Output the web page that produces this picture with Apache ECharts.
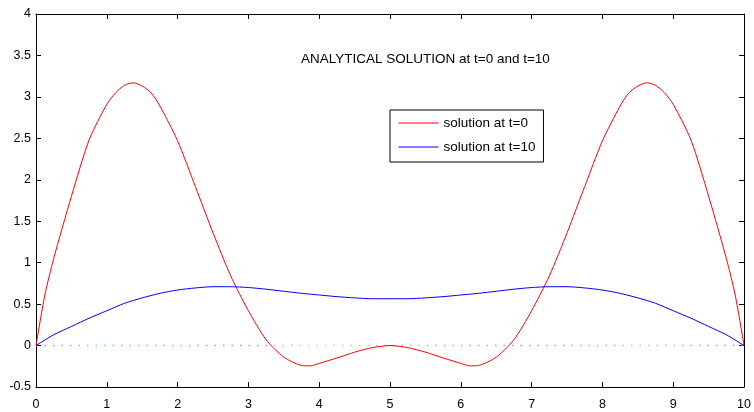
<!DOCTYPE html>
<html>
<head>
<meta charset="utf-8">
<script src="https://cdn.jsdelivr.net/npm/echarts@6/dist/echarts.min.js"></script>
<style>
html,body{margin:0;padding:0;background:#fff;}
#chart{width:754px;height:412px;}
</style>
</head>
<body>
<div id="chart"></div>
<script>
const redX = [0,0.125,0.25,0.5,0.75,1,1.125,1.25,1.375,1.5,1.625,1.75,2,2.25,2.5,2.75,3,3.25,3.5,3.75,3.875,4,4.25,4.5,4.75,5,
  5.25,5.5,5.75,6,6.125,6.25,6.5,6.75,7,7.25,7.5,7.75,8,8.25,8.375,8.5,8.625,8.75,8.875,9,9.25,9.5,9.75,9.875,10];
const redT0 = [0,0.61,1.05,1.80,2.48,2.91,3.05,3.14,3.17,3.13,3.05,2.89,2.47,1.92,1.36,0.84,0.42,0.07,-0.14,-0.24,-0.245,-0.215,-0.15,-0.08,-0.025,0,
  -0.025,-0.08,-0.15,-0.215,-0.245,-0.24,-0.14,0.07,0.42,0.84,1.36,1.92,2.47,2.89,3.05,3.13,3.17,3.14,3.05,2.91,2.48,1.80,1.05,0.61,0];
const blueX = [0,0.25,0.5,0.75,1,1.25,1.5,1.75,2,2.25,2.5,2.75,3,3.25,3.5,3.75,4,4.25,4.5,4.75,5,
  5.25,5.5,5.75,6,6.25,6.5,6.75,7,7.25,7.5,7.75,8,8.25,8.5,8.75,9,9.25,9.5,9.75,10];
const blueT10 = [0,0.13,0.23,0.33,0.42,0.51,0.575,0.63,0.67,0.695,0.71,0.71,0.70,0.68,0.655,0.63,0.61,0.59,0.575,0.565,0.565,
  0.565,0.575,0.59,0.61,0.63,0.655,0.68,0.70,0.71,0.71,0.695,0.67,0.63,0.575,0.51,0.42,0.33,0.23,0.13,0];
const baseX = [0,10];
const baseY = [0,0];
const xTicks = [0,1,2,3,4,5,6,7,8,9,10];
const yTicks = [-0.5,0,0.5,1,1.5,2,2.5,3,3.5,4];
const titleText = 'ANALYTICAL SOLUTION at t=0 and t=10';
const seriesNames = ['solution at t=0','solution at t=10'];

const font = 'Liberation Sans, Arial, Helvetica, sans-serif';
const chart = echarts.init(document.getElementById('chart'), null, {renderer:'canvas'});
const pair = (xs, ys) => xs.map((x,i)=>[x, ys[i]]);
const axisCommon = {
  axisLine:{show:true, onZero:false, lineStyle:{color:'#000', width:1}},
  axisTick:{show:true, inside:true, length:5, lineStyle:{color:'#000', width:1}},
  splitLine:{show:false}
};
const dotGradient = new echarts.graphic.LinearGradient(0,0,1,0,[
  {offset:0,color:'#ff8080'},{offset:0.1,color:'#66dddd'},{offset:0.2,color:'#dd99dd'},{offset:0.3,color:'#9999ff'},
  {offset:0.4,color:'#dddd77'},{offset:0.5,color:'#ff88bb'},{offset:0.6,color:'#77cccc'},{offset:0.7,color:'#bb88ff'},
  {offset:0.8,color:'#ff9999'},{offset:0.9,color:'#88dddd'},{offset:1,color:'#8888ff'}
]);
chart.setOption({
  animation:false,
  backgroundColor:'#fff',
  title:{text:titleText, left:296, top:47, textStyle:{fontFamily:font, fontSize:13.5, fontWeight:'normal', color:'#000'}},
  legend:{
    data:seriesNames, orient:'vertical', left:390, top:110,
    padding:[6,8,8,8], itemGap:10, itemWidth:40, itemHeight:14,
    borderColor:'#000', borderWidth:1, backgroundColor:'#fff',
    itemStyle:{opacity:0},
    lineStyle:{width:1},
    textStyle:{fontFamily:font, fontSize:13.5, color:'#000'}
  },
  grid:{left:36, right:6, top:14, bottom:25, containLabel:false},
  xAxis:[
    Object.assign({type:'value', min:0, max:10, interval:1, position:'bottom',
      axisLabel:{fontFamily:font, fontSize:12.5, color:'#000', margin:11,
        formatter:v=>xTicks.includes(v)?String(v):''}}, axisCommon),
    Object.assign({type:'value', min:0, max:10, interval:1, position:'top', axisLabel:{show:false}}, axisCommon)
  ],
  yAxis:[
    Object.assign({type:'value', min:-0.5, max:4, interval:0.5, position:'left',
      axisLabel:{fontFamily:font, fontSize:12.5, color:'#000', margin:5,
        formatter:v=>yTicks.includes(v)?String(v):''}}, axisCommon),
    Object.assign({type:'value', min:-0.5, max:4, interval:0.5, position:'right', axisLabel:{show:false}}, axisCommon)
  ],
  series:[
    {name:'baseline', type:'line', data:pair(baseX, baseY), symbol:'none', silent:true,
      lineStyle:{color:dotGradient, width:1.5, type:[1.5,7]}, z:1},
    {name:seriesNames[0], type:'line', data:pair(redX, redT0), symbol:'none', smooth:0.25,
      lineStyle:{color:'#ff0000', width:1}, itemStyle:{color:'#ff0000'}, z:3},
    {name:seriesNames[1], type:'line', data:pair(blueX, blueT10), symbol:'none', smooth:0.25,
      lineStyle:{color:'#0000ff', width:1}, itemStyle:{color:'#0000ff'}, z:3}
  ]
});
</script>
</body>
</html>
